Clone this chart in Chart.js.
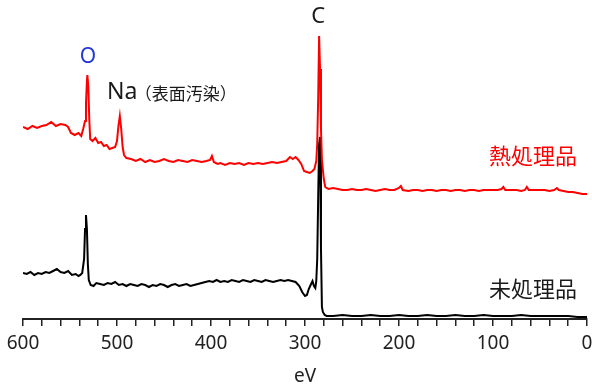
<!DOCTYPE html>
<html>
<head>
<meta charset="utf-8">
<script src="https://cdn.jsdelivr.net/npm/chart.js@4.4.1/dist/chart.umd.min.js"></script>
<style>
  html, body { margin: 0; padding: 0; background: #fff; }
  #wrap { width: 592px; height: 390px; }
</style>
</head>
<body>
<div id="wrap"><canvas id="chartXps"></canvas></div>
<script>
// ── Data (binding energy in eV, intensity in arbitrary counts) ───────────────

const X_TICK_LABELS = [600, 500, 400, 300, 200, 100, 0];
const X_TITLE = 'eV';

const SERIES_NAMES = ['熱処理品', '未処理品'];

const redEV = [
  600, 595, 590, 585, 580, 575, 570, 565, 560, 555, 552, 549, 545, 541, 538, 536,
  534, 533, 532, 531.5, 530.5, 529.5, 528.5, 526, 523, 520, 517, 514, 511, 508, 505,
  502, 500, 498.5, 497, 495.5, 494, 492.5, 490, 485, 480, 475, 470, 465, 460, 455,
  450, 445, 440, 435, 430, 425, 420, 415, 410, 405, 401, 399, 397, 393, 390, 385,
  380, 375, 370, 365, 360, 355, 350, 345, 340, 335, 330, 325, 320, 316, 313, 310,
  307, 304, 301, 298, 295, 292, 290, 288, 287, 286, 285, 284, 283, 282, 280, 278.5,
  277, 275, 270, 265, 260, 255, 250, 245, 240, 235, 230, 225, 220, 215, 210, 205,
  200, 198, 196, 190, 185, 180, 175, 170, 165, 160, 155, 150, 145, 140, 135, 130,
  125, 120, 115, 110, 105, 100, 95, 91, 89, 87, 80, 75, 70, 66, 64, 62, 55, 50, 45,
  40, 35, 32, 30, 25, 20, 15, 10, 5, 0,
];
const redI = [
  192, 190, 193, 191, 193, 194, 197, 193, 195, 194, 192, 186, 184, 186, 183, 190,
  198, 215, 238, 244, 232, 200, 180, 178, 181, 176, 177, 173, 174, 170, 171,
  172, 178, 193, 203, 190, 172, 164, 161, 160, 158, 160, 157, 159, 157, 158,
  160, 158, 157, 159, 158, 157, 159, 158, 157, 158, 159, 163, 157, 155, 156, 154,
  156, 155, 156, 154, 156, 155, 156, 155, 156, 157, 156, 157, 158, 162, 160, 162,
  159, 155, 148, 147, 146, 148, 150, 158, 175, 220, 283, 250, 190, 159, 140, 132,
  131, 130, 131, 130, 129, 129, 130, 129, 129, 130, 129, 128, 129, 130, 129, 129,
  131, 133, 129, 128, 129, 129, 128, 129, 129, 128, 129, 129, 128, 129, 129, 128,
  129, 129, 128, 129, 129, 129, 129, 130, 132, 129, 129, 129, 128, 129, 132, 129, 129, 129, 129,
  128, 129, 131, 129, 128, 127, 127, 126, 125, 125,
];

const blackEV = [
  600, 596, 592, 588, 584, 580, 576, 572, 568, 564, 560, 556, 552, 548, 544, 541,
  539, 537, 535, 534, 533, 532, 531, 530, 528, 525, 522, 518, 514, 510, 506, 502,
  498, 494, 490, 486, 482, 478, 474, 470, 466, 462, 458, 454, 450, 446, 442, 438,
  434, 430, 426, 422, 418, 414, 410, 406, 402, 398, 394, 390, 386, 382, 378, 374,
  370, 366, 362, 358, 354, 350, 346, 342, 338, 334, 330, 326, 322, 318, 314, 310,
  306, 303, 300, 298, 296, 294, 292, 290.5, 289, 288, 287, 286, 285, 284, 283, 282,
  281, 279, 277, 270, 260, 250, 240, 230, 220, 210, 200, 190, 180, 170, 160, 150,
  140, 130, 120, 110, 100, 90, 80, 70, 60, 50, 40, 30, 20, 10, 0,
];
const blackI = [
  46, 45, 47, 44, 46, 45, 47, 46, 48, 50, 47, 46, 48, 44, 45, 43,
  44, 46, 60, 90, 104, 90, 55, 39, 34, 33, 36, 35, 34, 36, 35, 37,
  34, 35, 33, 35, 34, 33, 35, 34, 32, 34, 33, 35, 34, 32, 34, 35,
  33, 34, 35, 33, 34, 35, 36, 37, 38, 37, 39, 37, 38, 37, 39, 38,
  37, 39, 38, 37, 39, 38, 37, 39, 38, 37, 38, 39, 38, 39, 38, 37,
  33, 27, 23, 24, 30, 34, 38, 33, 31, 38, 60, 120, 175, 182, 70, 12,
  7, 4, 3, 3, 4, 3, 3, 4, 3, 3, 4, 3, 3, 4, 3, 3,
  4, 3, 3, 4, 3, 3, 3, 4, 3, 3, 3, 3, 3, 2, 2,
];

// ── Text annotations (placed in data coordinates) ───────────────────────────

const ANNOTATIONS = [
  { text: 'O',             ev: 530.9, y: 262, align: 'center', size: 21, color: '#2438d6' },
  { text: 'Na',            ev: 510.6, y: 227, align: 'left',   size: 23, color: '#1a1a1a' },
  { text: '（表面汚染）',    ev: 481,   y: 224, align: 'left',   size: 17, color: '#1a1a1a' },
  { text: 'C',             ev: 285.9, y: 302, align: 'center', size: 22, color: '#1a1a1a' },
  { text: SERIES_NAMES[0], ev: 10.6,  y: 161, align: 'right',  size: 22, color: '#ff0000' },
  { text: SERIES_NAMES[1], ev: 10.6,  y: 28,  align: 'right',  size: 22, color: '#1a1a1a' },
];

const FONT = '"Noto Sans", "Noto Sans CJK JP", sans-serif';

const toPoints = (xs, ys) => xs.map((x, i) => ({ x, y: ys[i] }));

const annotationPlugin = {
  id: 'xpsLabels',
  afterDraw(chart) {
    const { ctx, scales: { x, y } } = chart;
    ctx.save();
    ctx.textBaseline = 'middle';
    for (const a of ANNOTATIONS) {
      ctx.font = `${a.size}px ${FONT}`;
      ctx.fillStyle = a.color;
      ctx.textAlign = a.align;
      ctx.fillText(a.text, x.getPixelForValue(a.ev), y.getPixelForValue(a.y));
    }
    ctx.restore();
  },
};

new Chart(document.getElementById('chartXps'), {
  type: 'line',
  data: {
    datasets: [
      {
        label: SERIES_NAMES[0],
        data: toPoints(redEV, redI),
        borderColor: '#ff0000',
        borderWidth: 2,
        pointRadius: 0,
        tension: 0,
      },
      {
        label: SERIES_NAMES[1],
        data: toPoints(blackEV, blackI),
        borderColor: '#000000',
        borderWidth: 2,
        pointRadius: 0,
        tension: 0,
      },
    ],
  },
  options: {
    responsive: true,
    maintainAspectRatio: false,
    animation: false,
    layout: { padding: { left: 23, right: 5, top: 19, bottom: 0 } },
    plugins: {
      legend: { display: false },
      tooltip: { enabled: false },
    },
    scales: {
      x: {
        type: 'linear',
        reverse: true,
        min: 0,
        max: 600,
        border: { display: true, color: '#222', width: 2 },
        grid: { drawOnChartArea: false, drawTicks: true, tickLength: 7, color: '#222', lineWidth: 1.5 },
        ticks: {
          stepSize: 20,
          autoSkip: false,
          maxRotation: 0,
          padding: 6,
          color: '#222',
          font: { family: FONT, size: 19 },
          callback: v => (X_TICK_LABELS.includes(v) ? String(v) : ''),
        },
        title: {
          display: true,
          text: X_TITLE,
          color: '#222',
          font: { family: FONT, size: 19 },
          padding: { top: 0, bottom: 2 },
        },
        afterFit: scale => {
          scale.height = 71;
          scale.paddingLeft = 0;
          scale.paddingRight = 0;
        },
      },
      y: {
        display: false,
        min: 0,
        max: 300,
      },
    },
  },
  plugins: [annotationPlugin],
});
</script>
</body>
</html>
